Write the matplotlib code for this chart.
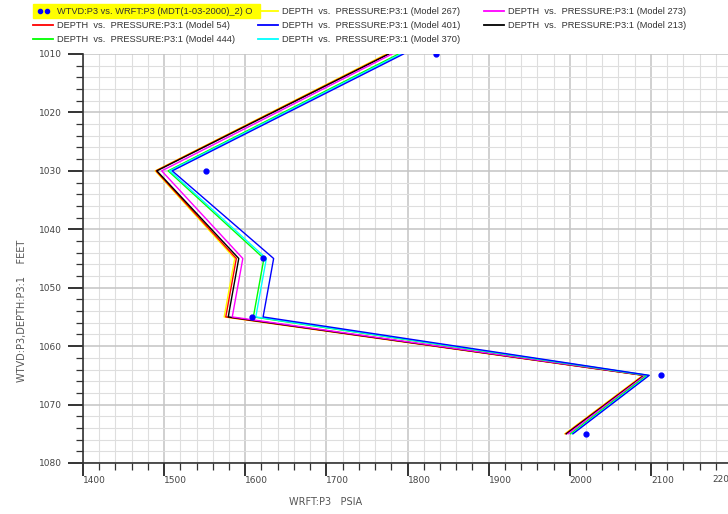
import matplotlib.pyplot as plt
from matplotlib.lines import Line2D
from matplotlib.patches import Rectangle
from matplotlib.ticker import MultipleLocator

# measured points (WTVD vs WRFT)
meas_depth = [1010, 1030, 1045, 1055, 1065, 1075]
meas_press = [1835, 1552, 1622, 1608, 2113, 2020]

# model curves, same depths
model_depth = [1010, 1030, 1045, 1055, 1065, 1075]
m267 = [1774, 1489, 1587, 1574, 2090, 1994]
m54 = [1776, 1490, 1589, 1576, 2091, 1995]
m213 = [1777, 1491, 1592, 1579, 2092, 1996]
m273 = [1781, 1497, 1597, 1584, 2093, 1998]
m444 = [1789, 1505, 1623, 1610, 2095, 2001]
m370 = [1792, 1507, 1626, 1613, 2097, 2003]
m401 = [1795, 1510, 1635, 1622, 2098, 2004]

x_ticks = [1400, 1500, 1600, 1700, 1800, 1900, 2000, 2100, 2200]

models = [
    ("267", m267, "#ffff00"),
    ("54", m54, "#ff0000"),
    ("213", m213, "#000000"),
    ("273", m273, "#ff00ff"),
    ("444", m444, "#00ff00"),
    ("370", m370, "#00ffff"),
    ("401", m401, "#0000ff"),
]

W, H = 728, 514
fig = plt.figure(figsize=(W / 100, H / 100), dpi=100)
ax = fig.add_axes([83 / W, 1 - 463 / H, (732 - 83) / W, (463 - 54) / H])

for name, vals, col in models:
    ax.plot(vals, model_depth, color=col, lw=1.0, zorder=3)
ax.plot(meas_press, meas_depth, 'o', color='#0000ff', ms=3.5, zorder=4)

ax.set_xlim(1400, 2200)
ax.set_ylim(1080, 1010)
ax.set_xticks(x_ticks)
ax.xaxis.set_minor_locator(MultipleLocator(20))
ax.yaxis.set_major_locator(MultipleLocator(10))
ax.yaxis.set_minor_locator(MultipleLocator(2))
ax.grid(which='major', color='#c4c4c4', lw=1.1)
ax.grid(which='minor', color='#dedede', lw=0.8)
ax.set_axisbelow(True)

for s in ['top', 'right']:
    ax.spines[s].set_visible(False)
for s in ['left', 'bottom']:
    ax.spines[s].set_color('#333333')
    ax.spines[s].set_linewidth(1.2)

ax.tick_params(axis='y', which='major', length=11, width=1.4, color='#333333',
               labelsize=6.5, labelcolor='#444444', pad=4)
ax.tick_params(axis='y', which='minor', length=5, width=0.9, color='#333333')
ax.tick_params(axis='x', which='major', length=9, width=1.4, color='#333333',
               labelsize=6.5, labelcolor='#444444', pad=0.5)
ax.tick_params(axis='x', which='minor', length=5, width=0.9, color='#333333')
ax.set_xticklabels([str(t) for t in x_ticks[:-1]] + [""])
for lab in ax.get_xticklabels():
    lab.set_horizontalalignment('left')
# last label is pushed inside the picture, like the original
fig.text(712 / W, 1 - 480 / H, str(x_ticks[-1]), fontsize=6.5, color='#444444',
         ha='left', va='center')

fig.text(22 / W, 1 - 311 / H, "WTVD:P3,DEPTH:P3:1    FEET", rotation=90,
         ha='center', va='center', fontsize=7, color='#555555')
fig.text(326 / W, 1 - 502 / H, "WRFT:P3   PSIA", ha='center', va='center',
         fontsize=7, color='#555555')

# legend drawn by hand
fnt = dict(family='Liberation Sans', fontsize=6.7, color='#333333', va='center')
fig.patches.append(Rectangle((33 / W, 1 - 18 / H), (260 - 33) / W, 14 / H,
                             transform=fig.transFigure, color='#ffff00', zorder=0))
fig.lines.append(Line2D([40 / W, 47 / W], [1 - 11 / H, 1 - 11 / H], ls='none',
                        marker='o', ms=3, color='#0000ff', transform=fig.transFigure))
fig.text(57 / W, 1 - 11 / H, "WTVD:P3 vs. WRFT:P3 (MDT(1-03-2000)_2) O", **fnt)

leg_items = [
    (258, 11, "267"), (484, 11, "273"),
    (33, 25, "54"), (258, 25, "401"), (484, 25, "213"),
    (33, 39, "444"), (258, 39, "370"),
]
colors = {n: c for n, v, c in models}
for x0, y0, name in leg_items:
    fig.lines.append(Line2D([x0 / W, (x0 + 20) / W], [1 - y0 / H, 1 - y0 / H],
                            color=colors[name], lw=1.3, transform=fig.transFigure))
    fig.text((x0 + 24) / W, 1 - y0 / H,
             "DEPTH  vs.  PRESSURE:P3:1 (Model %s)" % name, **fnt)

fig.savefig("out.png", dpi=100)
